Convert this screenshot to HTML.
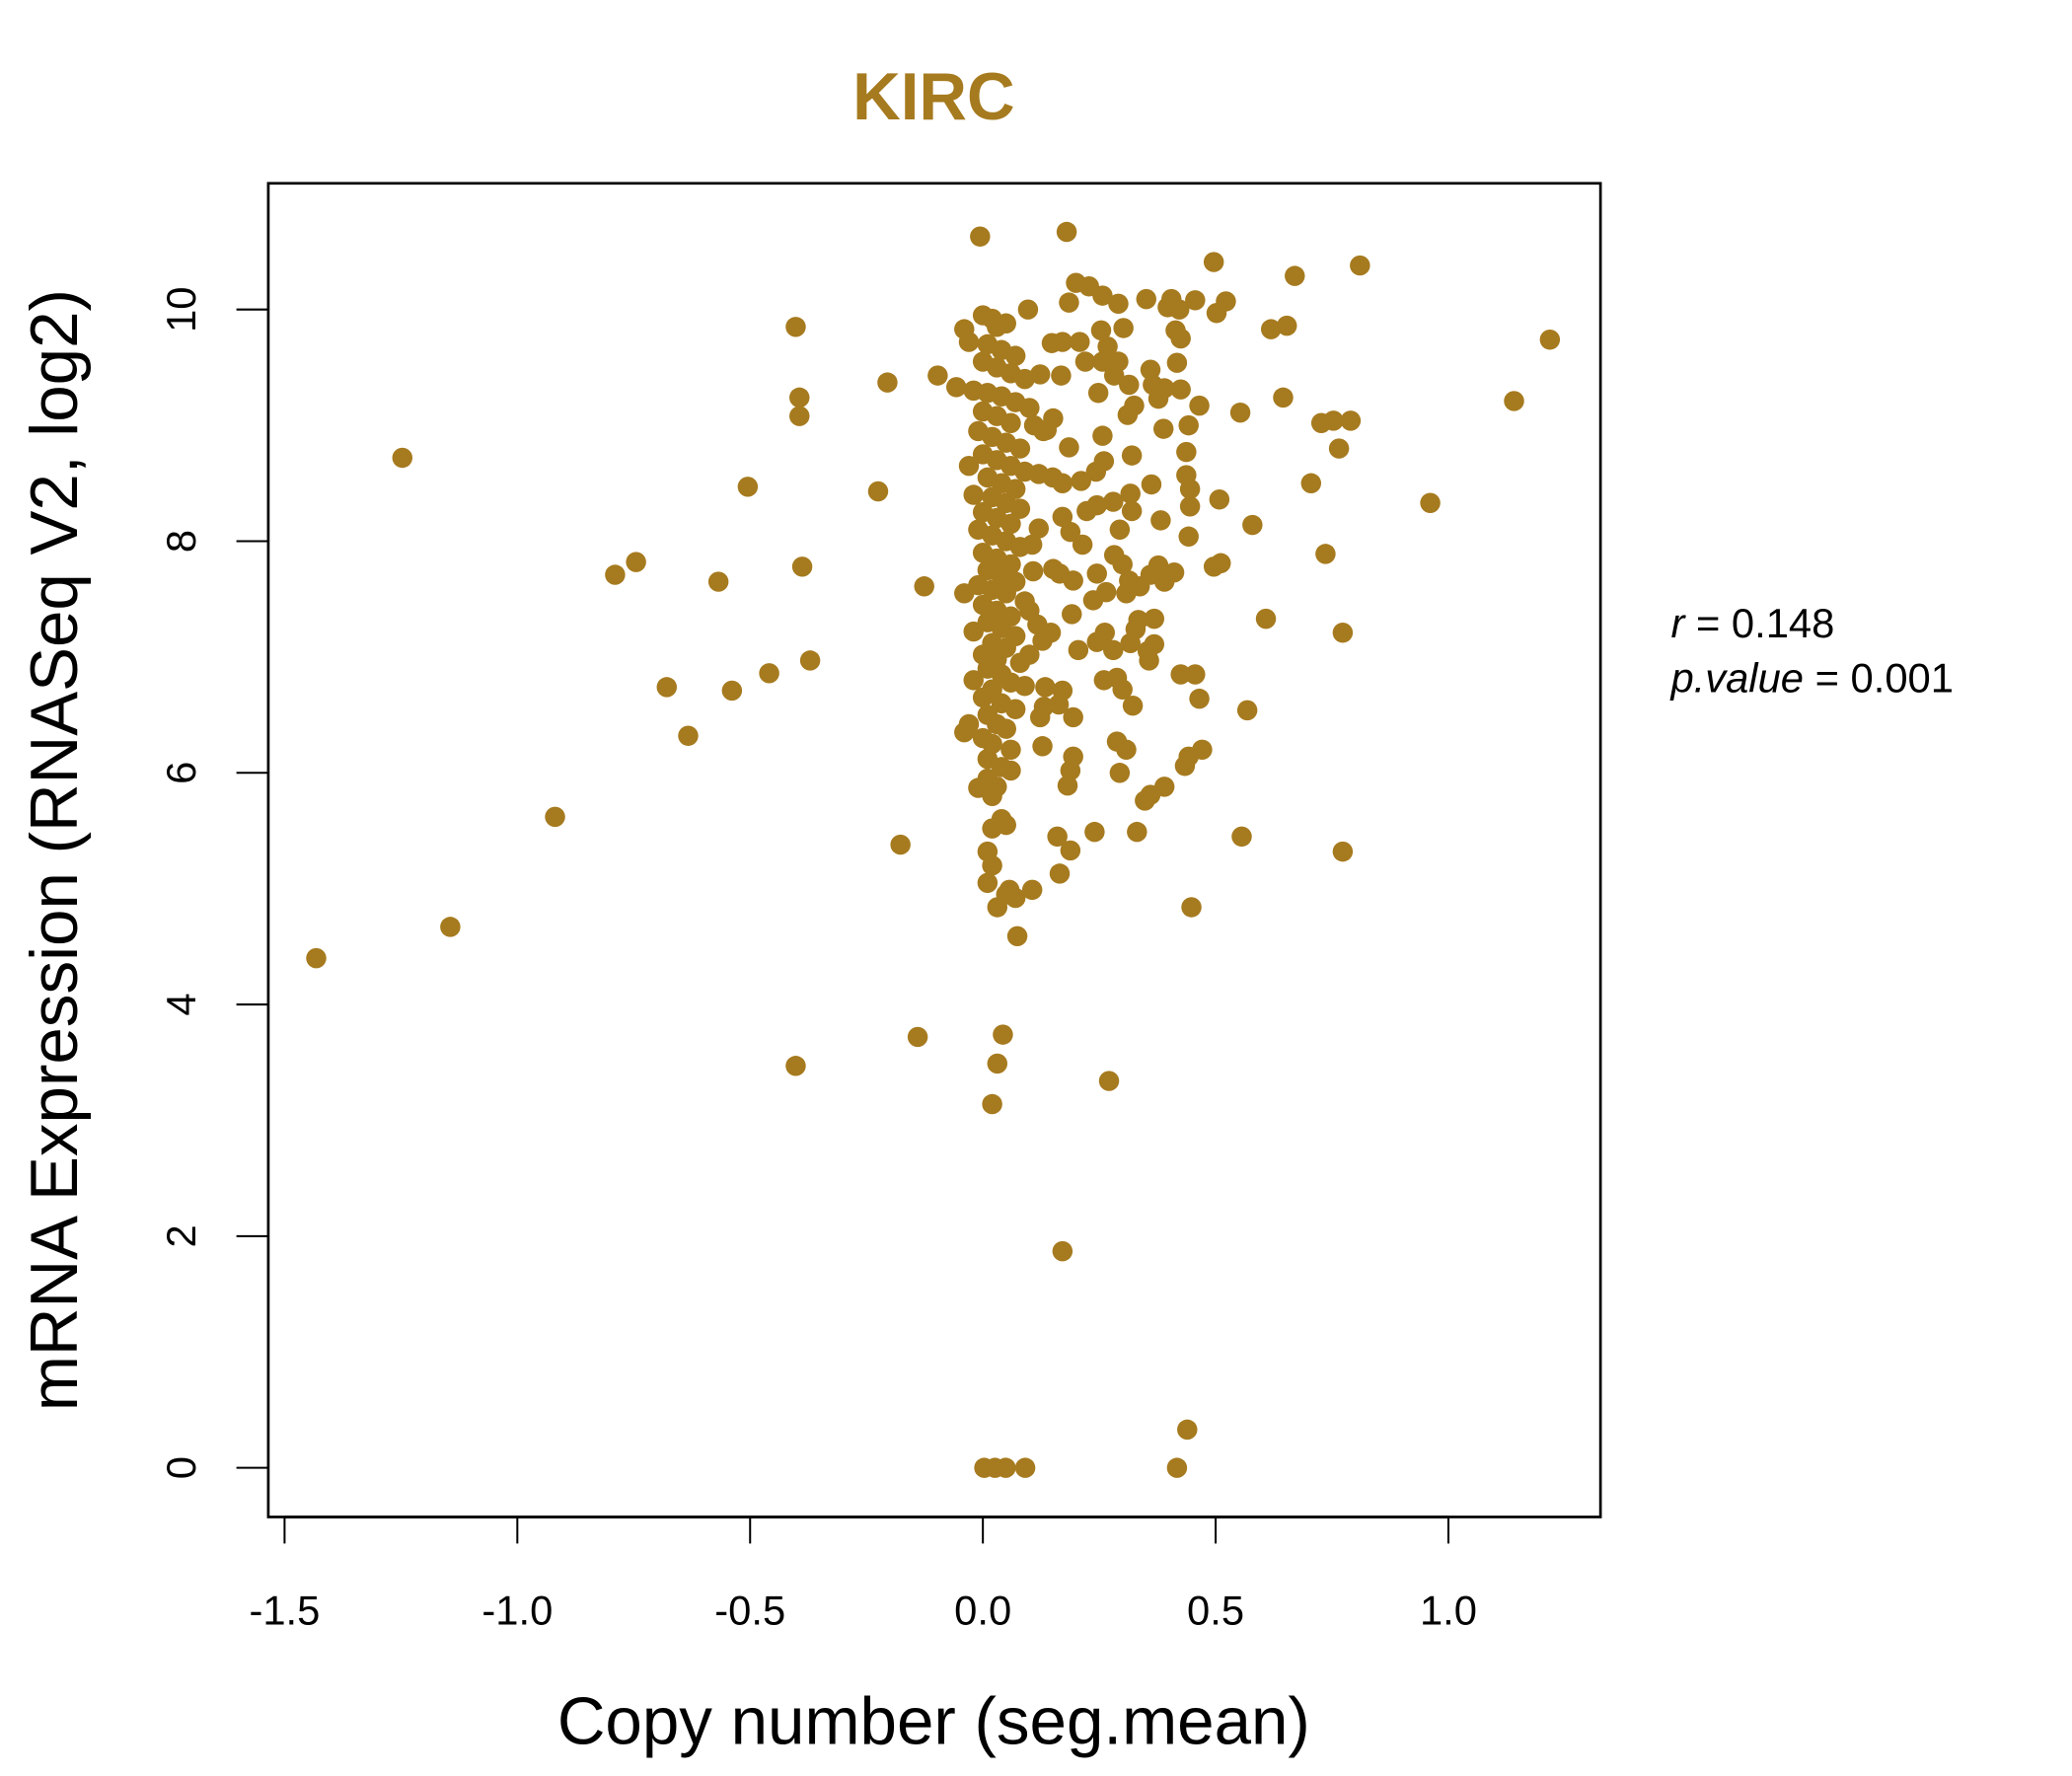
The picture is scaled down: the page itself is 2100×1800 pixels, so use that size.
<!DOCTYPE html>
<html><head><meta charset="utf-8"><style>
html,body{margin:0;padding:0;background:#fff;width:2100px;height:1800px;overflow:hidden}
svg{display:block}
text{font-family:"Liberation Sans",sans-serif}
</style></head><body>
<svg id="chart" width="2100" height="1800" viewBox="0 0 1560 1337" preserveAspectRatio="none" xmlns="http://www.w3.org/2000/svg">
<text x="703" y="90" text-anchor="middle" font-size="50" font-weight="bold" fill="#A67A1E">KIRC</text>
<rect x="202" y="138" width="1003" height="1004" fill="none" stroke="#000" stroke-width="2"/>
<g id="points"></g>
<g id="xaxis"></g>
<g id="yaxis"></g>
<text x="703" y="1313" text-anchor="middle" font-size="50">Copy number (seg.mean)</text>
<text transform="translate(58,640) rotate(-90)" text-anchor="middle" font-size="50">mRNA Expression (RNASeq V2, log2)</text>
<text x="1258" y="480" font-size="31"><tspan font-style="italic">r</tspan> = 0.148</text>
<text x="1258" y="521" font-size="31"><tspan font-style="italic">p.value</tspan> = 0.001</text>
</svg>
<script>
const xTicks = [-1.5, -1.0, -0.5, 0.0, 0.5, 1.0];
const xTickLabels = ["-1.5", "-1.0", "-0.5", "0.0", "0.5", "1.0"];
const yTicks = [0, 2, 4, 6, 8, 10];
const yTickLabels = ["0", "2", "4", "6", "8", "10"];
const copyNumber = [
-1.432,-1.247,-1.144,-0.919,-0.790,-0.745,-0.679,-0.633,-0.568,-0.539,-0.505,-0.459,-0.402,-0.394,-0.394,-0.388,-0.371,-0.402,-0.225,-0.205,-0.177,-0.140,-0.126,-0.097,-0.006,0.180,
1.218,1.141,0.961,0.810,0.670,0.790,0.753,0.727,0.765,0.705,0.736,0.773,0.773,0.653,0.619,0.645,0.579,0.608,0.568,0.556,0.553,0.496,0.522,0.502,0.508,0.511,0.496,0.448,0.439,0.417,
0.003,0.026,0.049,0.091,0.171,0.271,0.020,0.031,0.043,0.074,0.031,0.057,0.106,0.165,0.188,0.160,0.240,0.331,
0.200,0.228,0.257,0.291,0.185,0.351,0.405,0.422,0.456,0.397,0.097,0.254,0.302,0.414,0.425,0.148,0.171,0.208,0.268,0.257,0.220,0.291,0.360,0.417,0.123,0.168,0.282,
0.248,0.314,0.365,0.390,0.425,0.325,0.377,0.465,0.311,0.442,0.388,0.257,0.151,0.137,0.185,0.437,0.320,0.260,0.243,0.437,0.445,0.211,0.171,0.317,0.362,0.445,0.280,0.245,0.223,0.320,0.382,0.171,0.294,0.188,0.442,0.214,0.120,0.106,
0.282,0.300,0.377,0.360,0.411,0.390,0.245,0.314,0.337,0.265,0.308,0.108,0.151,0.165,0.194,0.237,0.191,0.334,0.368,0.117,0.146,0.262,0.328,0.368,0.245,0.205,0.280,0.354,0.317,0.357,0.100,0.128,
0.134,0.171,0.260,0.288,0.300,0.425,0.456,0.465,0.131,0.163,0.194,0.322,0.123,0.128,0.288,0.308,0.471,0.442,0.194,0.434,0.188,0.294,0.182,0.390,0.360,0.348,
-0.04,-0.03,0.00,0.02,0.03,0.05,0.01,0.04,0.07,0.00,0.03,0.06,0.09,-0.057,-0.02,0.01,0.04,0.07,0.10,0.00,0.03,0.06,0.11,0.13,-0.01,0.02,0.05,0.08,0.00,0.03,-0.03,0.06,0.09,0.12,0.15,0.01,0.04,0.07,-0.02,0.02,0.05,0.08,0.00,0.03,0.06,-0.01,0.02,0.05,0.08,0.00,0.03,0.06,0.01,0.04,0.07,-0.01,0.02,-0.04,0.05,0.09,0.00,0.03,0.06,0.10,0.01,0.04,-0.02,0.07,0.02,0.05,0.00,0.03,0.08,0.01,0.04,-0.02,0.06,0.09,0.02,0.00,0.04,0.07,0.01,-0.03,0.03,0.05,-0.04,0.00,0.02,0.06,0.01,0.04,0.06,0.01,0.03,-0.01,0.02,0.04,0.05,0.02,0.01,0.02,0.01,0.05,0.07
];
const expression = [
4.40,8.72,4.67,5.62,7.71,7.82,6.74,6.32,7.65,6.71,8.47,6.86,9.85,9.24,9.08,7.78,6.97,3.47,8.43,9.37,5.38,3.72,7.61,9.43,10.63,10.67,
9.74,9.21,8.33,10.38,10.29,9.04,9.04,9.02,8.80,8.50,7.89,7.21,5.32,9.86,9.83,9.24,8.14,7.33,6.54,5.45,9.11,10.41,10.07,9.97,8.36,7.81,7.78,4.84,0.33,0.00,
0.00,0.00,0.00,0.00,1.87,3.34,3.14,3.49,3.74,4.59,4.84,4.99,4.99,5.13,5.33,5.45,5.49,5.49,
10.23,10.20,10.12,10.05,10.06,10.09,10.09,10.00,10.08,10.02,10.00,9.82,9.84,9.82,9.75,9.71,9.72,9.72,9.68,9.55,9.55,9.55,9.48,9.54,9.44,9.43,9.43,
9.28,9.35,9.35,9.32,9.31,9.17,9.23,9.17,9.09,9.00,8.97,8.91,9.06,8.96,8.81,8.77,8.74,8.69,8.60,8.57,8.45,8.52,8.50,8.41,8.49,8.30,8.34,8.31,8.26,8.26,8.18,8.21,8.10,8.08,8.04,7.97,8.11,7.97,
7.88,7.80,7.79,7.71,7.73,7.65,7.72,7.66,7.61,7.56,7.55,7.74,7.76,7.72,7.66,7.49,7.37,7.32,7.33,7.28,7.21,7.21,7.24,7.11,7.13,7.06,7.06,7.05,7.12,6.97,7.02,7.14,
6.74,6.71,6.80,6.82,6.72,6.85,6.85,6.64,6.57,6.59,6.48,6.58,6.48,6.23,6.27,6.20,6.20,6.14,6.14,6.06,6.02,6.00,5.89,5.88,5.81,5.76,
9.83,9.72,9.95,9.92,9.85,9.88,9.70,9.65,9.60,9.55,9.50,9.45,9.40,9.33,9.30,9.28,9.25,9.20,9.15,9.12,9.08,9.02,9.00,8.95,8.95,8.90,8.85,8.80,8.75,8.70,8.65,8.65,8.60,8.58,8.55,8.55,8.50,8.45,8.40,8.38,8.33,8.28,8.25,8.20,8.15,8.10,8.05,8.00,7.95,7.90,7.85,7.80,7.75,7.70,7.65,7.62,7.58,7.55,7.55,7.48,7.45,7.40,7.35,7.40,7.30,7.25,7.22,7.18,7.12,7.08,7.02,6.98,6.95,6.90,6.85,6.80,6.78,6.75,6.72,6.65,6.60,6.55,6.50,6.42,6.42,6.38,6.35,6.30,6.25,6.20,6.12,6.05,6.02,5.95,5.88,5.87,5.80,5.60,5.55,5.52,5.32,5.20,5.05,4.95,4.92
];
const NS = "http://www.w3.org/2000/svg";
function sx(v){ return 740 + v * 350.5; }
function sy(v){ return 1105 - v * 87.2; }
const pts = document.getElementById('points');
const n = Math.min(copyNumber.length, expression.length);
for (let i = 0; i < n; i++) {
  const c = document.createElementNS(NS, 'circle');
  
  
  c.setAttribute('cx', sx(copyNumber[i]));
  c.setAttribute('cy', sy(expression[i]));
  c.setAttribute('r', 7.6);
  c.setAttribute('fill', '#A67A1E');
  pts.appendChild(c);
}
const xa = document.getElementById('xaxis');
xTicks.forEach((t, i) => {
  const l = document.createElementNS(NS, 'line');
  
  
  l.setAttribute('x1', sx(t)); l.setAttribute('x2', sx(t));
  l.setAttribute('y1', 1142); l.setAttribute('y2', 1162);
  l.setAttribute('stroke', '#000'); l.setAttribute('stroke-width', 1.5);
  xa.appendChild(l);
  const tx = document.createElementNS(NS, 'text');
  
  
  tx.setAttribute('x', sx(t)); tx.setAttribute('y', 1223);
  tx.setAttribute('text-anchor', 'middle'); tx.setAttribute('font-size', '31');
  tx.textContent = xTickLabels[i];
  xa.appendChild(tx);
});
const ax = document.createElementNS(NS, 'line');


ax.setAttribute('x1', sx(xTicks[0])); ax.setAttribute('x2', sx(xTicks[xTicks.length-1]));
ax.setAttribute('y1', 1142); ax.setAttribute('y2', 1142);
ax.setAttribute('stroke', '#000'); ax.setAttribute('stroke-width', 2);
xa.appendChild(ax);
const ya = document.getElementById('yaxis');
yTicks.forEach((t, i) => {
  const l = document.createElementNS(NS, 'line');
  
  
  l.setAttribute('x1', 178); l.setAttribute('x2', 202);
  l.setAttribute('y1', sy(t)); l.setAttribute('y2', sy(t));
  l.setAttribute('stroke', '#000'); l.setAttribute('stroke-width', 1.5);
  ya.appendChild(l);
  const tx = document.createElementNS(NS, 'text');
  
  
  tx.setAttribute('transform', 'translate(147,' + sy(t) + ') rotate(-90)');
  tx.setAttribute('text-anchor', 'middle'); tx.setAttribute('font-size', '31');
  tx.textContent = yTickLabels[i];
  ya.appendChild(tx);
});
</script>
</body></html>
